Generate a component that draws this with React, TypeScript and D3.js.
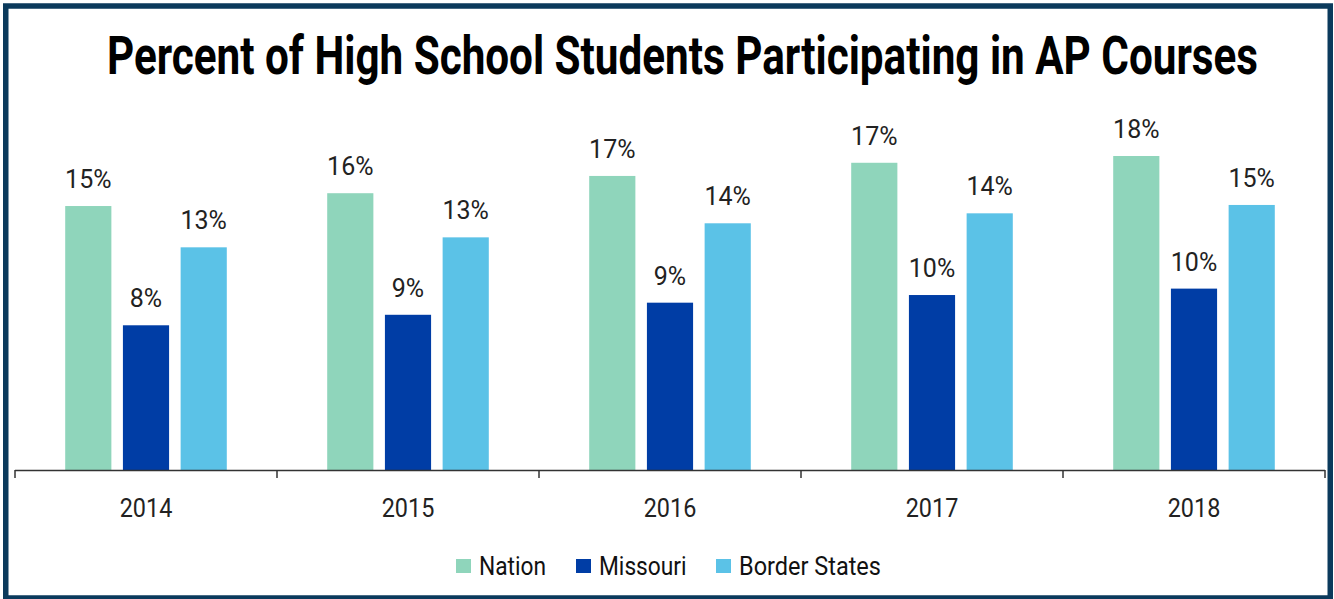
import React from "react";
import * as d3 from "d3";

const years = ["2014", "2015", "2016", "2017", "2018"];
const seriesNames = ["Nation", "Missouri", "Border States"];
const nation = [14.83, 15.55, 16.52, 17.26, 17.64];
const missouri = [8.13, 8.72, 9.4, 9.83, 10.19];
const borderStates = [12.51, 13.07, 13.86, 14.42, 14.89];
const colors = ["#8fd5bb", "#003da5", "#5bc2e7"];
const title = "Percent of High School Students Participating in AP Courses";

const W = 1334;
const H = 599;
const baseY = 470;
const axisLeft = 15;
const axisRight = 1325;
const legendX = [456, 576, 716];
const legendScale = [0.91, 0.91, 0.94];

export default function App() {
  const series = [nation, missouri, borderStates];
  const x = d3.scaleBand<string>().domain(years).range([axisLeft, axisRight]).padding(0);
  const xi = d3
    .scaleBand<string>()
    .domain(seriesNames)
    .range([0, x.bandwidth()])
    .paddingInner(0.2)
    .paddingOuter(0.87);
  const y = d3.scaleLinear().domain([0, 20]).range([baseY, baseY - 356]);
  const font = "Roboto, 'DejaVu Sans', sans-serif";
  const ticks = [...years.map((yr) => x(yr) as number), axisRight];

  return (
    <svg
      width={W}
      height={H}
      style={{ position: "absolute", left: 0, top: 0, background: "#fff" }}
    >
      <rect x={0} y={0} width={W} height={H} fill="#fff" />
      <rect
        x={5.75}
        y={6}
        width={1324.5}
        height={592}
        fill="none"
        stroke="#0b3a5c"
        strokeWidth={5.5}
      />
      <text
        transform="translate(682.5,74) scale(1,1.2)"
        textAnchor="middle"
        fontFamily={font}
        fontWeight={700}
        fontSize={44}
        textLength={1151}
        lengthAdjust="spacingAndGlyphs"
        fill="#000"
      >
        {title}
      </text>

      {years.map((yr, i) => (
        <g key={yr} transform={`translate(${x(yr)},0)`}>
          {series.map((s, j) => {
            const bx = xi(seriesNames[j]) as number;
            const bw = xi.bandwidth();
            const top = y(s[i]);
            return (
              <g key={j}>
                <rect
                  x={bx}
                  y={top}
                  width={bw}
                  height={baseY - top}
                  fill={colors[j]}
                />
                <text
                  x={bx + bw / 2}
                  y={top - 18}
                  textAnchor="middle"
                  fontFamily={font}
                  fontSize={25}
                  fill="#222"
                >
                  {`${Math.round(s[i])}%`}
                </text>
              </g>
            );
          })}
          <text
            transform={`translate(${x.bandwidth() / 2},517) scale(0.9,1)`}
            textAnchor="middle"
            fontFamily={font}
            fontSize={26}
            fill="#222"
          >
            {yr}
          </text>
        </g>
      ))}

      <line
        x1={axisLeft}
        x2={axisRight}
        y1={baseY + 0.5}
        y2={baseY + 0.5}
        stroke="#333"
        strokeWidth={1.5}
      />
      {ticks.map((t, i) => (
        <line
          key={i}
          x1={t}
          x2={t}
          y1={baseY}
          y2={baseY + 8}
          stroke="#333"
          strokeWidth={1.5}
        />
      ))}

      {seriesNames.map((name, j) => (
        <g key={name}>
          <rect x={legendX[j]} y={559} width={15} height={14} fill={colors[j]} />
          <text
            transform={`translate(${legendX[j] + 23},575) scale(${legendScale[j]},1)`}
            fontFamily={font}
            fontSize={25}
            fill="#111"
          >
            {name}
          </text>
        </g>
      ))}
    </svg>
  );
}
